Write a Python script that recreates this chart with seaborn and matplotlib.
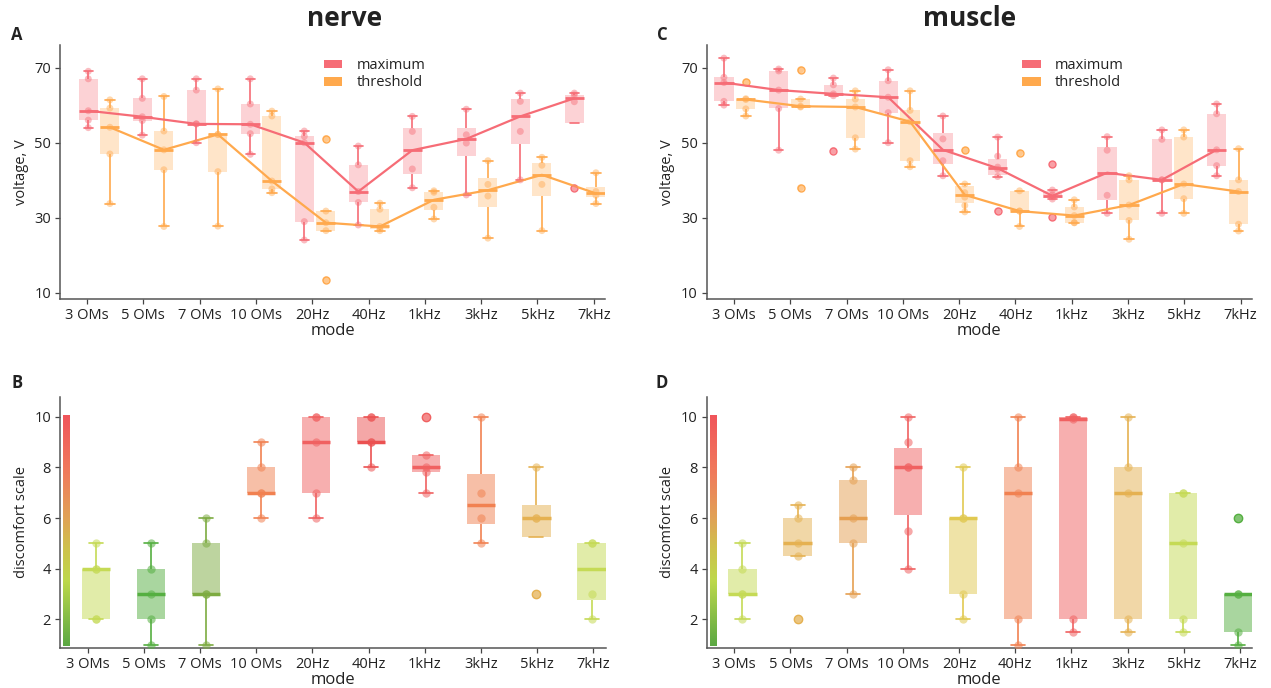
import numpy as np
import pandas as pd
import matplotlib
matplotlib.use("Agg")
import matplotlib.pyplot as plt
import seaborn as sns
from matplotlib.colors import LinearSegmentedColormap, to_rgba
from matplotlib.patches import Patch

modes = ["3 OMs", "5 OMs", "7 OMs", "10 OMs", "20Hz", "40Hz", "1kHz", "3kHz", "5kHz", "7kHz"]
kinds = ["maximum", "threshold"]

# voltage readings per mode (V)
nerve_max = [
    [54, 56, 58.5, 67, 69],
    [52, 55.9, 56.9, 61.8, 67],
    [50, 55, 55, 64, 67],
    [46.9, 52.4, 54.9, 60.3, 67],
    [24.1, 29, 50, 51.7, 53.1],
    [28.1, 34.1, 37, 44.1, 49.1],
    [38, 43, 53, 57],
    [36.1, 49.9, 52.1, 58.9],
    [40.1, 53, 61, 63.2],
    [38, 60.9, 62.7, 63.2],
]
nerve_thr = [
    [33.8, 47, 54.1, 59.2, 61.4],
    [27.7, 42.8, 48.1, 53.1, 62.3],
    [27.8, 42.3, 52.2, 52.2, 64.3],
    [36.7, 37.7, 39.8, 57.1, 58.4],
    [13.5, 26.6, 28.7, 31.8, 51.1],
    [26.6, 27.1, 27.7, 32.3, 33.9],
    [29.7, 32.8, 36.8, 37.2],
    [24.6, 35.8, 38.9, 45.2],
    [26.6, 38.9, 44, 46.1],
    [33.8, 36, 37, 42],
]
muscle_max = [
    [60, 61, 66, 67.4, 72.5],
    [48, 59.1, 64, 69.1, 69.6],
    [47.9, 62.5, 63, 65.4, 67.2],
    [50, 58, 62.1, 66.5, 69.4],
    [41.2, 45.2, 51, 57.1],
    [31.8, 41, 42.9, 43.5, 46.4, 51.5],
    [30.1, 35, 35.6, 36.1, 37.4, 44.2],
    [31.2, 36, 48, 51.6],
    [31.2, 40.1, 40.1, 50.9, 53.4],
    [41.2, 43.9, 48.1, 57.7, 60.3],
]
muscle_thr = [
    [57.1, 59, 61.5, 61.7, 66.2],
    [38, 59.5, 59.7, 61.6, 69.4],
    [48.3, 51.3, 59.5, 61.6, 63.8],
    [43.6, 45.2, 55.6, 58.6, 63.8],
    [31.6, 33.3, 35.5, 36.7, 39, 48],
    [27.7, 31.8, 31.8, 37.2, 47.3],
    [28.7, 28.7, 30.6, 32.9, 34.8],
    [24.3, 29.3, 33.4, 40.1, 41.2],
    [31.2, 35.1, 39, 51.5, 53.4],
    [26.5, 28.3, 37, 40.1, 48.4],
]

# discomfort ratings per mode
nerve_pain = [
    [2, 2, 4, 4, 5],
    [1, 2, 3, 4, 5],
    [1, 3, 3, 5, 6],
    [6, 7, 7, 8, 9],
    [6, 7, 9, 10, 10],
    [8, 9, 9, 10, 10],
    [7, 7.8, 8, 8.5, 10],
    [5, 6, 7, 10],
    [3, 6, 6, 8],
    [2, 3, 5, 5],
]
muscle_pain = [
    [2, 3, 3, 4, 5],
    [2, 4.5, 5, 6, 6.5],
    [3, 5, 6, 7.5, 8],
    [4, 5.5, 8, 8, 9, 10],
    [2, 3, 6, 6, 8],
    [1, 2, 7, 8, 10],
    [1.5, 2, 9.9, 10, 10],
    [1.5, 2, 7, 8, 10],
    [1.5, 2, 5, 7, 7],
    [1, 1.5, 3, 3, 6],
]

kind_colors = {"maximum": "#F66C76", "threshold": "#FFA94D"}
nerve_pain_colors = ["#C5DA55", "#55AF41", "#7DAB41", "#F18151", "#F06161",
                     "#EB5151", "#F06161", "#F18151", "#E5B151", "#C5DA55"]
muscle_pain_colors = ["#C5DA55", "#E5B151", "#E59F51", "#F06161", "#E1C951",
                      "#F18151", "#F06161", "#E5B151", "#C5DA55", "#55AF41"]
scale_cmap = LinearSegmentedColormap.from_list(
    "discomfort", [(0.0, "#5BA843"), (0.28, "#BDD84B"), (0.42, "#CEC24C"),
                   (0.55, "#E0A356"), (0.75, "#F07B5C"), (1.0, "#F0555A")])


def voltage_frame(max_vals, thr_vals):
    rows = []
    for kind, groups in zip(kinds, [max_vals, thr_vals]):
        for mode, vals in zip(modes, groups):
            rows += [(mode, kind, v) for v in vals]
    return pd.DataFrame(rows, columns=["mode", "kind", "voltage"])


def pain_frame(groups):
    rows = []
    for mode, vals in zip(modes, groups):
        rows += [(mode, v) for v in vals]
    return pd.DataFrame(rows, columns=["mode", "score"])


def style_axis(ax, tick0, step, xlim):
    ax.set_xticks(tick0 + step * np.arange(len(modes)), labels=modes)
    ax.set_xlim(*xlim)
    ax.set_xlabel("mode", labelpad=0)
    sns.despine(ax=ax)
    ax.tick_params(length=3.5, width=0.9, color="#444444", labelsize=10.5,
                   labelcolor="#222222", pad=3)
    for s in ["left", "bottom"]:
        ax.spines[s].set_color("#555555")
        ax.spines[s].set_linewidth(1.1)


def voltage_panel(ax, df, tick0, step, xlim, legend_x):
    for kind in kinds:
        col = kind_colors[kind]
        sub = df[df["kind"] == kind]
        sns.boxplot(data=sub, x="mode", y="voltage", hue="kind", order=modes,
                    hue_order=kinds, palette=kind_colors, dodge=True, width=0.8,
                    gap=0.12, saturation=1, linecolor=col, linewidth=1.2,
                    legend=False, ax=ax,
                    boxprops=dict(facecolor=to_rgba(col, 0.3), edgecolor="none"),
                    medianprops=dict(color=col, linewidth=2),
                    flierprops=dict(marker="o", markersize=5,
                                    markerfacecolor=to_rgba(col, 0.35),
                                    markeredgecolor=col, markeredgewidth=1))
        sns.stripplot(data=sub, x="mode", y="voltage", hue="kind", order=modes,
                      hue_order=kinds, palette=kind_colors, dodge=True,
                      jitter=False, size=5, alpha=0.45, linewidth=0,
                      legend=False, ax=ax)
    sns.pointplot(data=df, x="mode", y="voltage", hue="kind", order=modes,
                  hue_order=kinds, palette=kind_colors, estimator="median",
                  errorbar=None, dodge=0.4, markersize=0, linewidth=1.6,
                  legend=False, ax=ax)
    ax.set_ylim(8.4, 76.0)
    ax.set_yticks([10, 30, 50, 70])
    ax.set_ylabel("voltage, V", fontsize=10.5)
    style_axis(ax, tick0, step, xlim)
    handles = [Patch(facecolor=kind_colors[k], edgecolor="none", label=k) for k in kinds]
    ax.legend(handles=handles, loc="upper left", bbox_to_anchor=(legend_x, 1.0),
              frameon=False, fontsize=10.5, handlelength=1.25, handleheight=0.55,
              handletextpad=1.0, labelspacing=0.15)


def pain_panel(ax, groups, colors, tick0, step, xlim):
    df = pain_frame(groups)
    for mode, col in zip(modes, colors):
        sub = df[df["mode"] == mode]
        sns.boxplot(data=sub, x="mode", y="score", order=modes, color=col,
                    saturation=1, width=0.51, linecolor=col, linewidth=1.2, ax=ax,
                    boxprops=dict(facecolor=to_rgba(col, 0.5), edgecolor="none"),
                    medianprops=dict(color=col, linewidth=2.5),
                    flierprops=dict(marker="o", markersize=6,
                                    markerfacecolor=to_rgba(col, 0.4),
                                    markeredgecolor=col, markeredgewidth=1))
        sns.stripplot(data=sub, x="mode", y="score", order=modes, color=col,
                      jitter=False, size=6, alpha=0.55, linewidth=0, ax=ax)
    ax.set_ylim(0.88, 10.79)
    ax.set_yticks([2, 4, 6, 8, 10])
    ax.set_ylabel("discomfort scale", fontsize=10.5)
    style_axis(ax, tick0, step, xlim)
    cax = ax.inset_axes([0.0055, 0.95, 0.0128, 9.12], transform=ax.get_yaxis_transform())
    cax.imshow(np.linspace(1, 0, 256)[:, None], aspect="auto", cmap=scale_cmap)
    cax.axis("off")


sns.set_theme(style="ticks")
plt.rcParams["font.family"] = ["Open Sans", "DejaVu Sans"]
plt.rcParams["text.color"] = "#222222"
plt.rcParams["axes.labelcolor"] = "#222222"

fig = plt.figure(figsize=(12.71, 6.88), dpi=100)
ax_a = fig.add_axes([0.0472, 0.5654, 0.4288, 0.3692])
ax_c = fig.add_axes([0.5560, 0.5654, 0.4290, 0.3692])
ax_b = fig.add_axes([0.0472, 0.0586, 0.4293, 0.3648])
ax_d = fig.add_axes([0.5560, 0.0586, 0.4290, 0.3648])

voltage_panel(ax_a, voltage_frame(nerve_max, nerve_thr), -0.224, 1.0426, (-0.724, 9.368), 0.46)
voltage_panel(ax_c, voltage_frame(muscle_max, muscle_thr), -0.016, 1.0283, (-0.515, 9.445), 0.555)
pain_panel(ax_b, nerve_pain, nerve_pain_colors, -0.151, 1.0205, (-0.654, 9.256))
pain_panel(ax_d, muscle_pain, muscle_pain_colors, -0.149, 1.0213, (-0.651, 9.259))

fig.text(345 / 1271, 1 - 19 / 688, "nerve", ha="center", va="center", fontsize=19, fontweight="bold")
fig.text(970 / 1271, 1 - 19 / 688, "muscle", ha="center", va="center", fontsize=19, fontweight="bold")
for letter, x, y in [("A", 17, 35), ("B", 17, 383), ("C", 662, 35), ("D", 662, 383)]:
    fig.text(x / 1271, 1 - y / 688, letter, ha="center", va="center", fontsize=12, fontweight="bold")

fig.savefig("out.png", dpi=100)
